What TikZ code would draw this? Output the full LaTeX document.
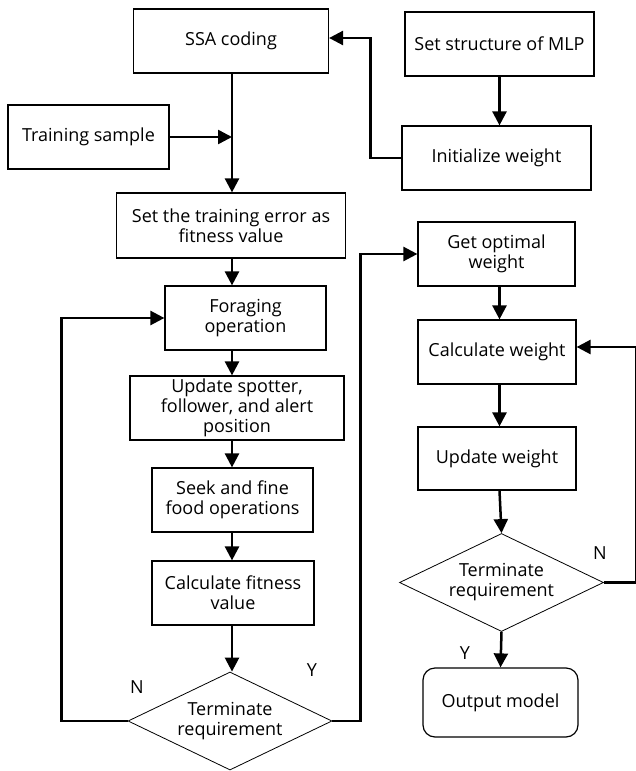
\documentclass[tikz,border=0pt]{standalone}
\usepackage{fontspec}
\setmainfont{Open Sans}
\usetikzlibrary{arrows.meta,shapes.geometric}
\begin{document}
\begin{tikzpicture}[x=1pt,y=-1pt,
    caja/.style={draw,line width=1.2pt,align=center,inner sep=0pt,font=\fontsize{18}{20}\selectfont},
    rombo/.style={draw,diamond,aspect=2.08,line width=0.8pt,align=center,inner sep=0pt,
        minimum width=204pt,minimum height=98pt,font=\fontsize{18}{20}\selectfont},
    etiq/.style={font=\fontsize{18}{20}\selectfont,inner sep=0pt},
    flecha/.style={line width=2.5pt,-{Triangle[length=14pt,width=14pt]}}]
    \useasboundingbox (0,0) rectangle (636,771);

    % Columna izquierda
    \node[caja,minimum width=195pt,minimum height=64pt] (ssa) at (231,41) {SSA coding};
    \node[caja,minimum width=161pt,minimum height=64pt] (sample) at (88.5,137) {Training sample};
    \node[caja,minimum width=229pt,minimum height=65pt] (fit) at (231,225.5) {Set the training error as\\fitness value};
    \node[caja,minimum width=161pt,minimum height=64pt] (forage) at (245.5,318) {Foraging\\operation};
    \node[caja,minimum width=214pt,minimum height=64pt] (update) at (237,408) {Update spotter,\\follower, and alert\\position};
    \node[caja,minimum width=161pt,minimum height=64pt] (seek) at (232.5,500) {Seek and fine\\food operations};
    \node[caja,minimum width=162pt,minimum height=64pt] (calcfit) at (233,593) {Calculate fitness\\value};
    \node[rombo] (term1) at (230,721) {Terminate\\requirement};

    % Columna derecha
    \node[caja,minimum width=189pt,minimum height=64pt] (mlp) at (499.5,44) {Set structure of MLP};
    \node[caja,minimum width=189pt,minimum height=64pt] (init) at (496.5,158) {Initialize weight};
    \node[caja,minimum width=157pt,minimum height=64pt] (getopt) at (496.5,254) {Get optimal\\weight};
    \node[caja,minimum width=158pt,minimum height=64pt] (calcw) at (497,352) {Calculate weight};
    \node[caja,minimum width=158pt,minimum height=63pt] (updw) at (497,458.5) {Update weight};
    \node[rombo] (term2) at (501.5,582.5) {Terminate\\requirement};
    \node[caja,rounded corners=12pt,minimum width=155pt,minimum height=69pt] (out) at (500.5,702.5) {Output model};

    % Etiquetas
    \node[etiq] (n1) at (137,687) {N};
    \node[etiq] (y1) at (312,670) {Y};
    \node[etiq] (n2) at (600,553) {N};
    \node[etiq] (y2) at (465,653) {Y};

    % Flechas
    \coordinate (lx) at (232,0);
    \coordinate (rx) at (499.5,0);
    \draw[flecha] (ssa.south -| lx) -- (fit.north -| lx);
    \draw[flecha] (sample.east) -- (sample.east -| lx);
    \draw[flecha] (mlp.south -| rx) -- (init.north -| rx);
    \draw[flecha] (init.west) -- ++(-31,0) |- ([yshift=3pt]ssa.east);
    \draw[flecha] (fit.south -| lx) -- (forage.north -| lx);
    \draw[flecha] (forage.south -| lx) -- (update.north -| lx);
    \draw[flecha] (update.south -| lx) -- (seek.north -| lx);
    \draw[flecha] (seek.south -| lx) -- (calcfit.north -| lx);
    \draw[flecha] (calcfit.south -| lx) -- (term1.north -| lx);
    \draw[flecha] (term1.west) -- ++(-66,0) |- (forage.west);
    \draw[flecha] (term1.east) -- ++(28,0) |- (getopt.west);
    \draw[flecha] (getopt.south -| rx) -- (calcw.north -| rx);
    \draw[flecha] (calcw.south -| rx) -- (updw.north -| rx);
    \draw[flecha] (updw.south -| rx) -- (term2.north);
    \draw[flecha] (term2.east) -- ++(32,0) |- ([yshift=5pt]calcw.east);
    \draw[flecha] (term2.south) -- (out.north);
\end{tikzpicture}
\end{document}
